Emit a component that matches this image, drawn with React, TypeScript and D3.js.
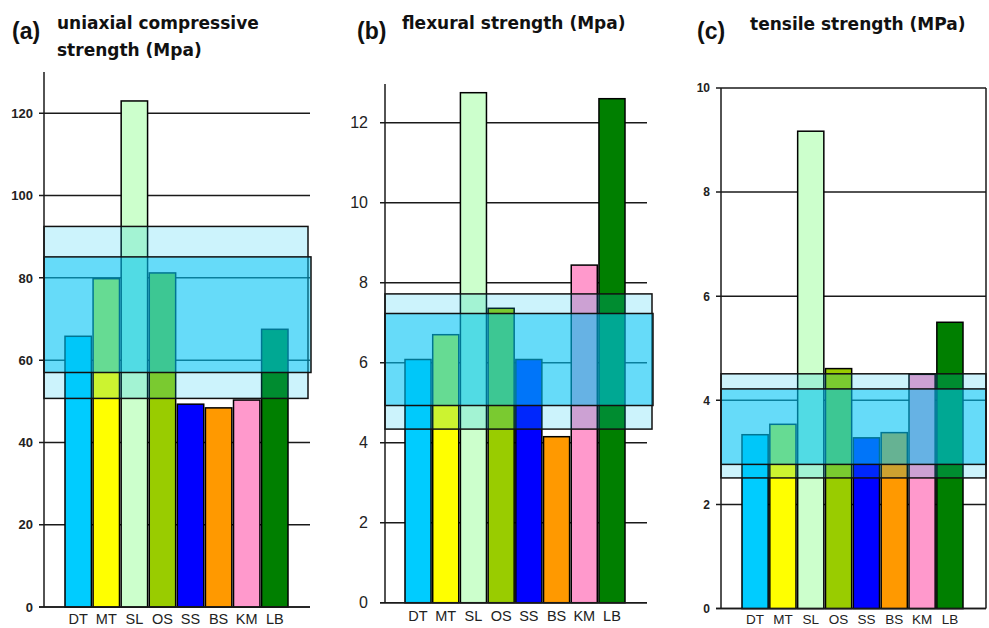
import React from "react";
import * as d3 from "d3";

// rock types
const categories = ["DT", "MT", "SL", "OS", "SS", "BS", "KM", "LB"];
const barColors = ["#00ccff", "#ffff00", "#ccffcc", "#99cc00", "#0000ff", "#ff9900", "#ff99cc", "#007f00"];

// (a) uniaxial compressive strength
const ucsValues = [65.8, 79.8, 123, 81.2, 49.3, 48.4, 50.3, 67.5];
const ucsOuter = [50.7, 92.5];
const ucsInner = [57.0, 85.1];
const ucsTicks = [0, 20, 40, 60, 80, 100, 120];

// (b) flexural strength
const flexValues = [6.08, 6.7, 12.75, 7.36, 6.08, 4.15, 8.44, 12.6];
const flexOuter = [4.34, 7.72];
const flexInner = [4.93, 7.23];
const flexTicks = [0, 2, 4, 6, 8, 10, 12];

// (c) tensile strength
const tensileValues = [3.34, 3.54, 9.17, 4.61, 3.28, 3.38, 4.5, 5.5];
const tensileOuter = [2.51, 4.51];
const tensileInner = [2.77, 4.22];
const tensileTicks = [0, 2, 4, 6, 8, 10];

interface PanelProps {
  letter: string;
  title: string[];
  values: number[];
  outer: number[];
  inner: number[];
  ticks: number[];
  domainMax: number;
  axisX: number;
  gridRight: number;
  outerRight: number;
  innerRight: number;
  y0: number;
  yMax: number;
  axisTop: number;
  barRange: [number, number];
  letterX: number;
  titleX: number;
  titleY: number;
  tickFont: { size: number; weight: string; gap: number };
  labelY: number;
  labelSize: number;
  frame?: boolean;
}

const Panel: React.FC<PanelProps> = (p) => {
  const y = d3.scaleLinear().domain([0, p.domainMax]).range([p.y0, p.yMax]);
  const x = d3.scaleBand<string>().domain(categories).range(p.barRange).paddingInner(0.06).paddingOuter(0);

  return (
    <g>
      {/* gridlines behind bars */}
      {p.ticks.map((t) => (
        <line key={"g" + t} x1={p.axisX - 5} x2={p.gridRight} y1={y(t)} y2={y(t)} stroke="#1a1a1a" strokeWidth={1.5} />
      ))}

      {/* bars */}
      {categories.map((c, i) => (
        <rect
          key={c}
          x={x(c)}
          y={y(p.values[i])}
          width={x.bandwidth()}
          height={y(0) - y(p.values[i])}
          fill={barColors[i]}
          stroke="#000"
          strokeWidth={1.5}
        />
      ))}

      {/* range bands drawn over the bars */}
      <rect
        x={p.axisX}
        y={y(p.outer[1])}
        width={p.outerRight - p.axisX}
        height={y(p.outer[0]) - y(p.outer[1])}
        fill="#00c3f0"
        fillOpacity={0.2}
        stroke="#111"
        strokeWidth={1.5}
      />
      <rect
        x={p.axisX}
        y={y(p.inner[1])}
        width={p.innerRight - p.axisX}
        height={y(p.inner[0]) - y(p.inner[1])}
        fill="#00c3f5"
        fillOpacity={0.5}
        stroke="#111"
        strokeWidth={1.5}
      />

      {/* baseline and axis */}
      <line x1={p.axisX - 5} x2={p.gridRight} y1={y(0)} y2={y(0)} stroke="#1a1a1a" strokeWidth={1.5} />
      <line x1={p.axisX} x2={p.axisX} y1={y(0)} y2={p.axisTop} stroke="#1a1a1a" strokeWidth={1.5} />
      {p.frame && (
        <line x1={p.gridRight} x2={p.gridRight} y1={y(0)} y2={y(p.domainMax)} stroke="#1a1a1a" strokeWidth={1.5} />
      )}

      {p.ticks.map((t) => (
        <text
          key={"t" + t}
          x={p.axisX - p.tickFont.gap}
          y={y(t)}
          dy="0.36em"
          textAnchor="end"
          fontFamily="'Liberation Sans', Arial, sans-serif"
          fontSize={p.tickFont.size}
          fontWeight={p.tickFont.weight}
          fill="#222"
        >
          {t}
        </text>
      ))}

      {categories.map((c) => (
        <text
          key={"l" + c}
          x={(x(c) as number) + x.bandwidth() / 2}
          y={p.labelY}
          textAnchor="middle"
          fontFamily="'Liberation Sans', Arial, sans-serif"
          fontSize={p.labelSize}
          fill="#222"
        >
          {c}
        </text>
      ))}

      <text x={p.letterX} y={39} fontFamily="'Liberation Sans', Arial, sans-serif" fontWeight="bold" fontSize={23} fill="#111">
        {p.letter}
      </text>
      {p.title.map((line, i) => (
        <text
          key={"h" + i}
          x={p.titleX}
          y={p.titleY + i * 27}
          fontFamily="'DejaVu Sans', sans-serif"
          fontWeight="bold"
          fontSize={17}
          fill="#111"
        >
          {line}
        </text>
      ))}
    </g>
  );
};

export default function App() {
  return (
    <svg
      width={989}
      height={628}
      style={{ position: "absolute", left: 0, top: 0, background: "#fff" }}
    >
      <rect width={989} height={628} fill="#fff" />
      <Panel
        letter="(a)"
        title={["uniaxial compressive", "strength (Mpa)"]}
        values={ucsValues}
        outer={ucsOuter}
        inner={ucsInner}
        ticks={ucsTicks}
        domainMax={120}
        axisX={44}
        gridRight={310}
        outerRight={308}
        innerRight={311}
        y0={607}
        yMax={113.3}
        axisTop={72}
        barRange={[65, 288]}
        letterX={12}
        titleX={57}
        titleY={29}
        tickFont={{ size: 13, weight: "bold", gap: 11 }}
        labelY={624}
        labelSize={14.5}
      />
      <Panel
        letter="(b)"
        title={["flexural strength (Mpa)"]}
        values={flexValues}
        outer={flexOuter}
        inner={flexInner}
        ticks={flexTicks}
        domainMax={12}
        axisX={385}
        gridRight={647}
        outerRight={652}
        innerRight={653}
        y0={602.7}
        yMax={122.7}
        axisTop={84}
        barRange={[405, 625]}
        letterX={357}
        titleX={402}
        titleY={29}
        tickFont={{ size: 16, weight: "normal", gap: 17 }}
        labelY={621}
        labelSize={14.5}
      />
      <Panel
        letter="(c)"
        title={["tensile strength (MPa)"]}
        values={tensileValues}
        outer={tensileOuter}
        inner={tensileInner}
        ticks={tensileTicks}
        domainMax={10}
        axisX={721}
        gridRight={986}
        outerRight={986}
        innerRight={986}
        y0={608.6}
        yMax={88}
        axisTop={88}
        barRange={[742, 963]}
        letterX={697}
        titleX={750}
        titleY={30}
        tickFont={{ size: 12, weight: "bold", gap: 11 }}
        labelY={624}
        labelSize={13.5}
        frame
      />
    </svg>
  );
}
